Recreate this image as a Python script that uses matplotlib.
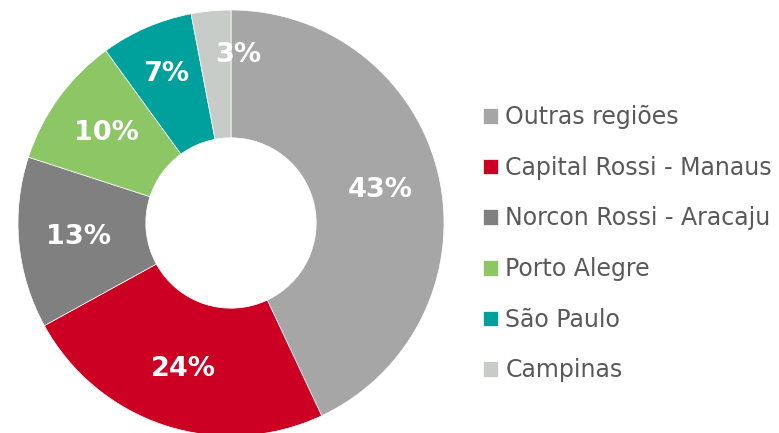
import matplotlib
matplotlib.use("Agg")
import matplotlib.pyplot as plt

labels = ["Outras regiões", "Capital Rossi - Manaus", "Norcon Rossi - Aracaju",
          "Porto Alegre", "São Paulo", "Campinas"]
values = [43, 24, 13, 10, 7, 3]
colors = ["#A6A6A6", "#CC0022", "#808080", "#8CC665", "#00A09D", "#C8CCC8"]

plt.rcParams['font.family'] = ['DejaVu Sans']

fig = plt.figure(figsize=(7.79, 4.33), dpi=100)
ax = fig.add_axes([18/779, -3/433, 426/779, 426/433])

wedges, texts, autotexts = ax.pie(
    values, colors=colors, startangle=90, counterclock=False,
    radius=1.0, autopct=lambda p: f"{p:.0f}%", pctdistance=0.72,
    wedgeprops=dict(width=0.6, edgecolor="white", linewidth=0.5),
    textprops=dict(color="white", fontsize=19.5, fontweight="bold"))

# small slice labels: pushed outward and left-aligned as in the original
for v, t in zip(values, autotexts):
    if v < 5:
        x, y = t.get_position()
        t.set_position((x * 1.1, y * 1.1))
        t.set_ha("left")
    elif v < 8:
        x, y = t.get_position()
        t.set_position((x * 1.06, y * 1.06))

ax.set_xlim(-1, 1)
ax.set_ylim(-1, 1)
ax.axis("off")

leg = fig.legend(wedges, labels, loc="upper left",
                 bbox_to_anchor=(483/779, 1 - 105/433),
                 frameon=False, fontsize=17,
                 handlelength=0.65, handleheight=0.65,
                 handletextpad=0.3, labelspacing=1.13,
                 borderpad=0, borderaxespad=0)
for t in leg.get_texts():
    t.set_color("#595959")

fig.savefig("out.png", dpi=100)
